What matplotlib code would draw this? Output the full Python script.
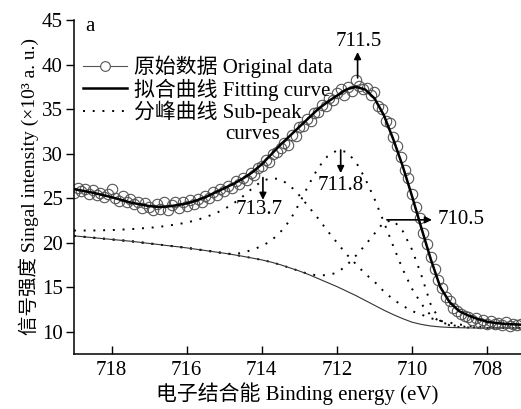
import numpy as np
import matplotlib
matplotlib.use("Agg")
import matplotlib.pyplot as plt
from matplotlib.lines import Line2D

# latinka Times-like, čínština fallback
plt.rcParams["font.family"] = ["Liberation Serif", "Noto Sans CJK SC"]
plt.rcParams["font.size"] = 15

# ---- měřená data (krok 0.1 eV, 719.0 -> 707.1) ----
energy_raw = np.round(np.arange(719.0, 707.05, -0.1), 1)
intensity_raw = [
    25.6, 26.1, 25.8, 26.0, 25.4, 25.9, 25.3, 25.6, 25.1, 25.4,
    26.0, 25.0, 24.7, 25.2, 24.5, 24.9, 24.3, 24.6, 23.9, 24.4,
    24.0, 23.7, 24.3, 23.8, 24.5, 23.6, 24.2, 24.6, 23.9, 24.5,
    24.1, 24.8, 24.3, 24.9, 24.6, 25.2, 25.0, 25.7, 25.3, 26.0,
    25.8, 26.4, 26.1, 26.9, 26.6, 27.3, 27.0, 27.8, 27.6, 28.4,
    28.6, 29.3, 29.0, 29.9, 30.2, 30.6, 31.2, 31.0, 32.1, 32.0,
    33.0, 33.1, 33.9, 33.6, 34.6, 34.7, 35.5, 35.3, 36.2, 36.0,
    36.8, 37.2, 36.6, 37.5, 37.0, 38.3, 37.6, 37.2, 37.4, 36.6,
    36.9, 35.3, 35.0, 33.7, 33.4, 31.9, 30.8, 29.6, 28.2, 27.3,
    25.5, 24.0, 22.8, 21.1, 19.8, 18.4, 17.0, 15.8, 14.9, 13.9,
    13.4, 12.7, 12.3, 12.0, 11.7, 11.6, 11.3, 11.5, 11.0, 11.3,
    10.9, 11.2, 10.8, 11.0, 10.7, 11.1, 10.6, 10.9, 10.7, 10.8,
]

# ---- křivky (krok 0.25 eV, 719.0 -> 707.0) ----
energy_fit = np.arange(719.0, 706.99, -0.25)
fit_curve = [
    26.0, 25.8, 25.6, 25.35, 25.1, 24.8, 24.5, 24.3, 24.1, 24.0,
    24.05, 24.2, 24.4, 24.7, 25.1, 25.6, 26.1, 26.6, 27.2, 27.9,
    28.8, 29.9, 31.0, 32.0, 33.0, 34.0, 35.0, 35.8, 36.5, 37.2,
    37.5, 37.2, 36.2, 34.3, 31.6, 28.6, 25.2, 21.6, 18.1, 15.0,
    13.3, 12.3, 11.8, 11.4, 11.1, 10.95, 10.85, 10.8, 10.75,
]
background = [
    20.75, 20.65, 20.55, 20.45, 20.35, 20.25, 20.15, 20.03, 19.9, 19.78,
    19.65, 19.53, 19.4, 19.25, 19.1, 18.95, 18.8, 18.63, 18.45, 18.25,
    18.05, 17.8, 17.5, 17.15, 16.8, 16.4, 15.95, 15.5, 15.05, 14.55,
    14.05, 13.5, 12.95, 12.4, 11.9, 11.45, 11.05, 10.8, 10.62, 10.52,
    10.46, 10.43, 10.41, 10.4, 10.4, 10.4, 10.4, 10.4, 10.4,
]
peak_713_7 = [
    21.35, 21.35, 21.35, 21.38, 21.4, 21.45, 21.5, 21.58, 21.65, 21.75,
    21.9, 22.05, 22.25, 22.5, 22.85, 23.25, 23.75, 24.4, 25.2, 26.1,
    26.9, 27.25, 27.1, 26.4, 25.3, 24.0, 22.7, 21.3, 20.0, 18.7,
    17.6, 16.5, 15.6, 14.5, 13.6, 12.9, 12.3, 11.9, 11.5, 11.2,
    11.0, 10.8, 10.65, 10.55, 10.5, 10.45, 10.45, 10.42, 10.42,
]
peak_711_8 = background[:17] + [
    18.7, 18.85, 19.2, 19.6, 20.2, 21.2, 22.5, 24.4, 26.5, 28.4,
    29.7, 30.35, 30.2, 29.1, 27.2, 24.9, 22.3, 19.6, 17.0, 14.8,
    13.1, 11.8, 11.1, 10.75, 10.6, 10.5, 10.45, 10.42, 10.4, 10.4,
    10.4, 10.4,
]
peak_710_5 = background[:25] + [
    16.45, 16.3, 16.35, 16.6, 17.4, 18.5, 19.7, 21.0, 22.3, 22.5,
    21.3, 19.2, 16.3, 13.0, 11.2, 10.7, 10.5, 10.45, 10.42, 10.4,
    10.4, 10.4, 10.4, 10.4,
]

fig = plt.figure(figsize=(5.21, 4.09), dpi=100)
ax = fig.add_axes([0.142, 0.135, 0.858, 0.816])

tecky = (0, (1, 4))
for p in [peak_713_7, peak_711_8, peak_710_5]:
    ax.plot(energy_fit, p, color="black", lw=1.4, linestyle=tecky)
ax.plot(energy_fit, background, color="#333333", lw=0.8)

ax.plot(energy_raw, intensity_raw, linestyle="none", marker="o", ms=7.5,
        mfc="none", mec="#555555", mew=0.8)
ax.plot(energy_fit, fit_curve, color="black", lw=1.8)

# popisky píků
sipka = dict(arrowstyle="-|>", color="black", lw=1.2, mutation_scale=10,
             shrinkA=0, shrinkB=0)
ax.annotate("", xy=(711.45, 41.4), xytext=(711.45, 38.5), arrowprops=sipka)
ax.text(711.41, 42.6, "711.5", ha="center", va="center")
ax.annotate("", xy=(711.9, 27.8), xytext=(711.9, 30.4), arrowprops=sipka)
ax.text(711.9, 26.4, "711.8", ha="center", va="center")
ax.annotate("", xy=(713.97, 24.8), xytext=(713.97, 27.3), arrowprops=sipka)
ax.text(714.07, 23.7, "713.7", ha="center", va="center")
ax.annotate("", xy=(709.47, 22.55), xytext=(710.67, 22.55), arrowprops=sipka)
ax.text(709.33, 22.55, "710.5", ha="left", va="center")

ax.text(718.7, 44.3, "a", ha="left", va="center")

# legenda
h_raw = Line2D([], [], color="#555555", lw=0.8, marker="o", ms=7,
               mfc="white", mec="#555555", mew=0.8)
h_fit = Line2D([], [], color="black", lw=1.8)
h_sub = Line2D([], [], color="black", lw=1.4, linestyle=tecky)
ax.legend([h_raw, h_fit, h_sub],
          ["原始数据 Original data", "拟合曲线 Fitting curve", "分峰曲线 Sub-peak"],
          loc="upper left", bbox_to_anchor=(0.02, 0.893), frameon=False,
          borderpad=0, borderaxespad=0, handlelength=2.1, handletextpad=0.35,
          labelspacing=0.0, fontsize=15)
# druhý řádek třetí položky legendy
ax.text(714.98, 32.1, "curves", ha="left", va="center")

ax.set_xlim(719.0, 707.1)
ax.set_ylim(7.5, 45)
ax.set_xticks([718, 716, 714, 712, 710, 708])
ax.set_yticks([10, 15, 20, 25, 30, 35, 40, 45])
ax.tick_params(axis="x", direction="in", length=6, width=1, pad=5)
ax.tick_params(axis="y", direction="out", length=6, width=1, pad=2)
for s in ["top", "right"]:
    ax.spines[s].set_visible(False)
for s in ["left", "bottom"]:
    ax.spines[s].set_linewidth(1.1)

ax.set_xlabel("电子结合能 Binding energy (eV)", labelpad=2)
ax.set_ylabel("信号强度 Singal intensity (×10³ a. u.)", fontsize=14, labelpad=2)

fig.savefig("out.png", dpi=100)
